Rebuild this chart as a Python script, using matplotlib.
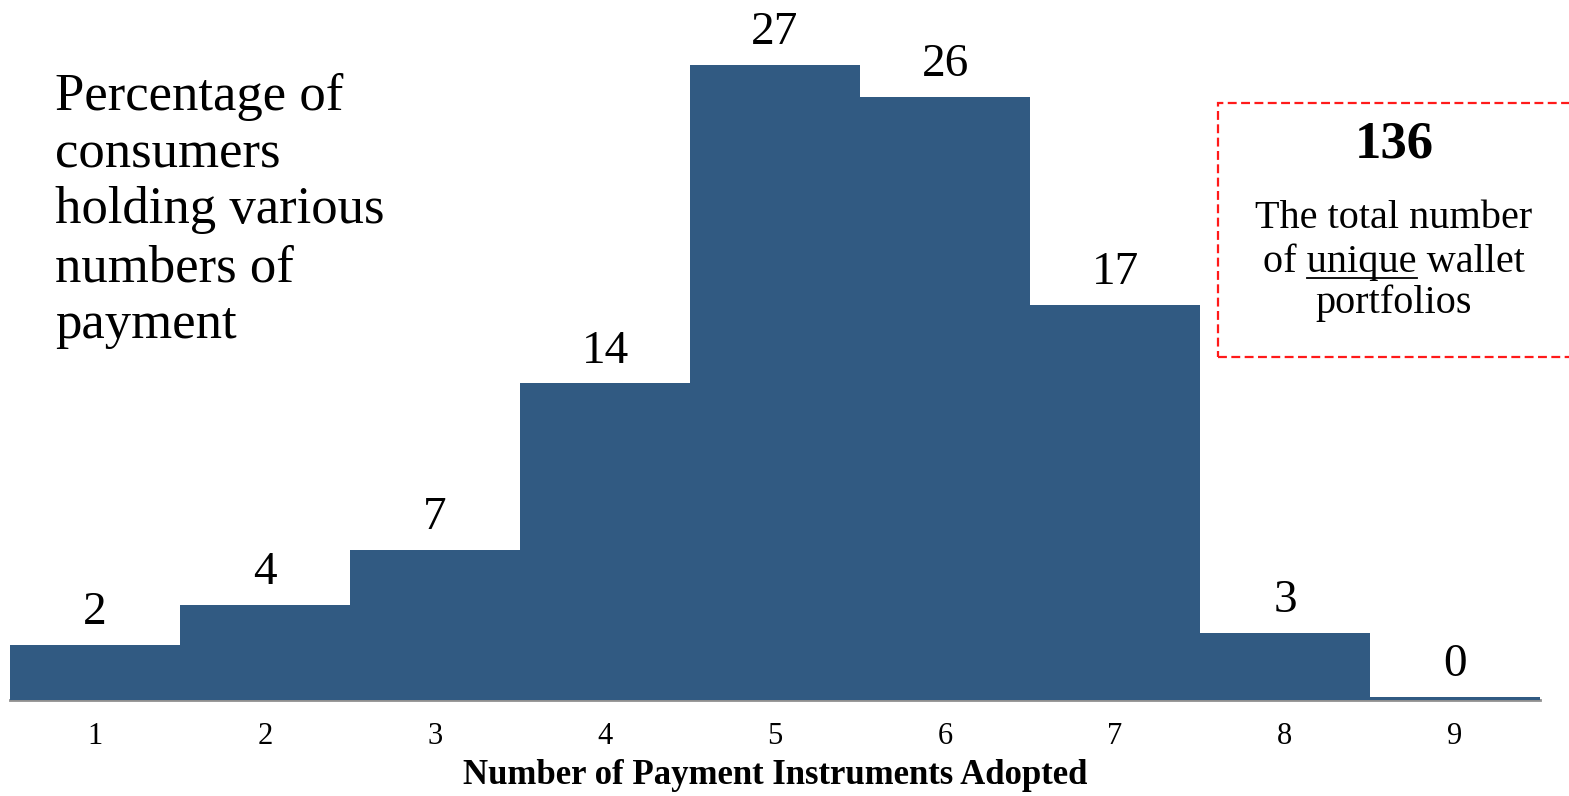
import matplotlib
matplotlib.use("Agg")
import matplotlib.pyplot as plt
from matplotlib.patches import Rectangle
from matplotlib.lines import Line2D

# data
instruments = [1, 2, 3, 4, 5, 6, 7, 8, 9]
share_pct = [2.4, 4.1, 6.5, 13.7, 27.5, 26.1, 17.1, 2.9, 0.15]
share_labels = ["2", "4", "7", "14", "27", "26", "17", "3", "0"]
tick_labels = ["1", "2", "3", "4", "5", "6", "7", "8", "9"]
side_lines = ["Percentage of", "consumers", "holding various", "numbers of", "payment"]
box_number = "136"

BAR_COLOR = "#315a82"
SERIF = "Liberation Serif"

W, H = 1569, 796
fig = plt.figure(figsize=(W / 100, H / 100), dpi=100)

# helper: pixel (from top-left) -> figure fraction
def fx(px):
    return px / W

def fy(py):
    return 1 - py / H

ax = fig.add_axes([fx(10), fy(700), 1530 / W, 700 / H])
ax.bar(instruments, share_pct, width=1.0, color=BAR_COLOR, linewidth=0, zorder=4)
ax.set_xlim(0.5, 9.5)
ax.set_ylim(0, 30.3)

for x, v, lab in zip(instruments, share_pct, share_labels):
    ax.annotate(lab, (x, v), textcoords="offset points", xytext=(0, 15),
                ha="center", va="baseline", fontsize=34, family=SERIF)

ax.set_xticks(instruments)
ax.set_xticklabels(tick_labels, fontsize=22, family=SERIF)
ax.tick_params(axis="x", length=0, pad=16)
ax.set_yticks([])
for s in ["top", "right", "left"]:
    ax.spines[s].set_visible(False)
ax.spines["bottom"].set_color("#8f8f8f")
ax.spines["bottom"].set_linewidth(2)
ax.spines["bottom"].set_zorder(3)

fig.text(fx(775), fy(784), "Number of Payment Instruments Adopted",
         ha="center", va="baseline", fontsize=25, fontweight="bold", family=SERIF)

# left description, one line at a time
baselines = [110, 167, 223, 282, 338]
for line, by in zip(side_lines, baselines):
    fig.text(fx(55), fy(by), line, ha="left", va="baseline", fontsize=38, family=SERIF)

# dashed red box on the right
box = Rectangle((fx(1218), fy(357)), fx(1600 - 1218), (357 - 103) / H,
                transform=fig.transFigure, fill=False, edgecolor="#ff1a1a",
                linewidth=1.6, linestyle=(0, (4, 2)), clip_on=False)
fig.add_artist(box)

cx = fx(1394)
fig.text(cx, fy(158), box_number, ha="center", va="baseline",
         fontsize=38, fontweight="bold", family=SERIF)
fig.text(cx, fy(228), "The total number", ha="center", va="baseline", fontsize=29, family=SERIF)
mid = fig.text(cx, fy(272), "of unique wallet", ha="center", va="baseline", fontsize=29, family=SERIF)
fig.text(cx, fy(313), "portfolios", ha="center", va="baseline", fontsize=29, family=SERIF)

# underline "unique" by measuring the text pieces
r = fig.canvas.get_renderer()
full = mid.get_window_extent(r)
tmp1 = fig.text(0, 0, "of ", fontsize=29, family=SERIF)
tmp2 = fig.text(0, 0, "of unique", fontsize=29, family=SERIF)
w1 = tmp1.get_window_extent(r).width
w2 = tmp2.get_window_extent(r).width
tmp1.remove()
tmp2.remove()
ux0 = (full.x0 + w1) / W
ux1 = (full.x0 + w2) / W
fig.add_artist(Line2D([ux0, ux1], [fy(278), fy(278)], transform=fig.transFigure,
                      color="black", linewidth=1.3))

fig.savefig("out.png", dpi=100)
